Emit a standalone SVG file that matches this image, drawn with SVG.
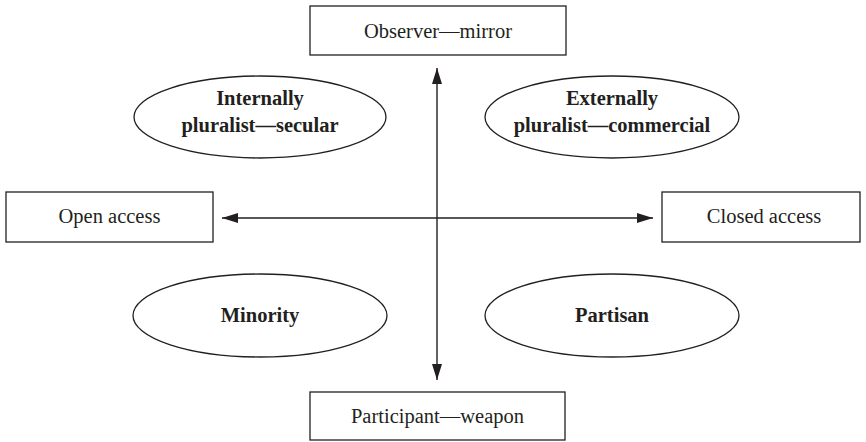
<svg xmlns="http://www.w3.org/2000/svg" width="866" height="442" viewBox="0 0 866 442">
<defs>
<style>
.box{fill:#fff;stroke:#231f20;stroke-width:1.3}
.ell{fill:#fff;stroke:#231f20;stroke-width:1.3}
.t{font-family:"Liberation Serif","Times New Roman",serif;font-size:20.5px;fill:#231f20;text-anchor:middle}
.b{font-weight:bold}
.ln{stroke:#231f20;stroke-width:1.4;fill:none}
</style>
<marker id="ah" viewBox="0 0 16 10" refX="16" refY="5" markerWidth="16" markerHeight="10" markerUnits="userSpaceOnUse" orient="auto-start-reverse">
<path d="M0,0 L16,5 L0,10 Z" fill="#231f20"/>
</marker>
</defs>
<rect width="866" height="442" fill="#fff"/>
<g id="connectors">
<line class="ln" x1="437" y1="68" x2="437" y2="380" marker-start="url(#ah)" marker-end="url(#ah)"/>
<line class="ln" x1="222" y1="218" x2="653" y2="218" marker-start="url(#ah)" marker-end="url(#ah)"/>
</g>
<g id="observer">
<rect class="box" x="310" y="6" width="256" height="49"/>
<text class="t" x="438" y="38">Observer—mirror</text>
</g>
<g id="participant">
<rect class="box" x="310" y="392" width="255" height="48"/>
<text class="t" x="437.5" y="423">Participant—weapon</text>
</g>
<g id="open">
<rect class="box" x="6" y="192" width="207" height="50"/>
<text class="t" x="109.5" y="223">Open access</text>
</g>
<g id="closed">
<rect class="box" x="662" y="192" width="198" height="50"/>
<text class="t" x="764" y="223">Closed access</text>
</g>
<g id="internal">
<ellipse class="ell" cx="260" cy="117" rx="126" ry="41"/>
<text class="t b" x="260" y="105">Internally</text>
<text class="t b" x="260" y="132">pluralist—secular</text>
</g>
<g id="external">
<ellipse class="ell" cx="612" cy="117" rx="127" ry="41"/>
<text class="t b" x="612" y="105">Externally</text>
<text class="t b" x="612" y="132">pluralist—commercial</text>
</g>
<g id="minority">
<ellipse class="ell" cx="260" cy="315.5" rx="127" ry="41.5"/>
<text class="t b" x="260" y="322">Minority</text>
</g>
<g id="partisan">
<ellipse class="ell" cx="612" cy="315.5" rx="127" ry="41.5"/>
<text class="t b" x="612" y="322">Partisan</text>
</g>
</svg>
